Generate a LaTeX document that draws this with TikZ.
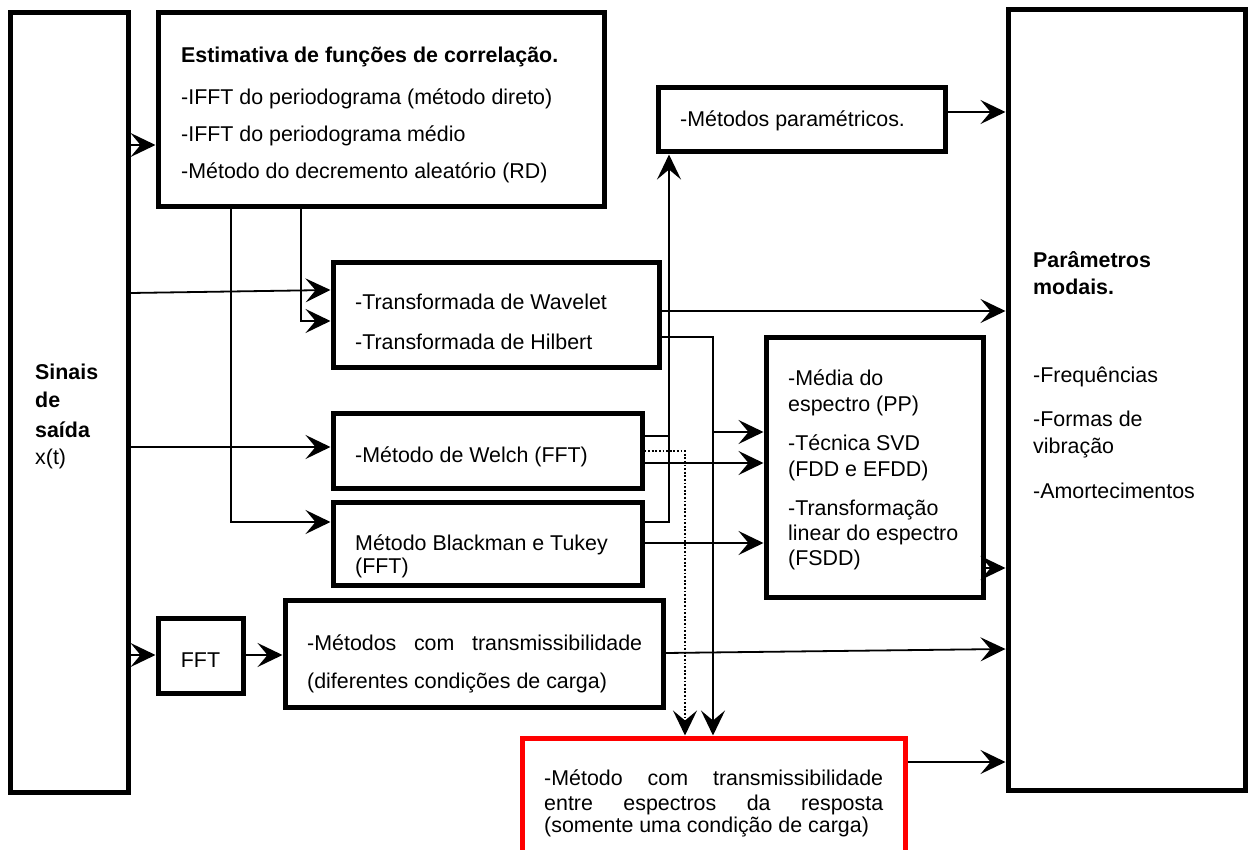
\documentclass[tikz,border=0pt]{standalone}
\usepackage{fontspec}
\setmainfont{Liberation Sans}
\usetikzlibrary{arrows.meta,calc}
\begin{document}
\begin{tikzpicture}[x=1pt,y=-1pt,
  box/.style={draw=black,line width=5pt,rectangle,inner sep=0pt,minimum width=#1},
  redbox/.style={draw=red,line width=5pt,rectangle,inner sep=0pt},
  txt/.style={anchor=base west,inner sep=0pt,font=\fontsize{21.4}{26}\selectfont},
  btxt/.style={anchor=base west,inner sep=0pt,font=\fontsize{21.4}{26}\selectfont\bfseries},
  line/.style={draw=black,line width=1.8pt},
  conn/.style={line,-{Stealth[length=25pt,width=24pt,inset=10pt]}},
  dotline/.style={conn,dash pattern=on 1.8pt off 1.8pt}]
\useasboundingbox (0,0) rectangle (1251,850);
\clip (0,0) rectangle (1251,850);
\fill[white] (0,0) rectangle (1251,850);

% boxes
\node[box=118pt,minimum height=779pt] (L) at (69,402.5) {};
\node[box=446pt,minimum height=194pt] (T) at (381,110) {};
\node[box=287pt,minimum height=64pt] (P) at (801.5,120) {};
\node[box=326pt,minimum height=105pt] (W) at (496,315.5) {};
\node[box=309pt,minimum height=75pt] (We) at (487.5,450.5) {};
\node[box=309pt,minimum height=83pt] (B) at (487.5,543.5) {};
\node[box=217pt,minimum height=259pt] (S) at (874.5,467.5) {};
\node[box=85pt,minimum height=75pt] (F) at (200.5,655.5) {};
\node[box=378pt,minimum height=107pt] (Tr) at (474,653.5) {};
\node[redbox,minimum width=383pt,minimum height=140pt] (R) at (713.5,808) {};
\node[box=237pt,minimum height=780pt] (M) at (1126.5,400) {};

% texts
\node[btxt] (tL1) at (35,380) {Sinais};
\node[btxt] (tL2) at (35,407) {de};
\node[btxt] (tL3) at (35,437) {saída};
\node[txt] (tL4) at (35,464) {x(t)};

\node[btxt] (tT1) at (181,63) {Estimativa de funções de correlação.};
\node[txt] (tT2) at (181,105) {-IFFT do periodograma (método direto)};
\node[txt] (tT3) at (181,142) {-IFFT do periodograma médio};
\node[txt] (tT4) at (181,179) {-Método do decremento aleatório (RD)};

\node[txt] (tP) at (680,127) {-Métodos paramétricos.};

\node[txt] (tW1) at (355,310) {-Transformada de Wavelet};
\node[txt] (tW2) at (355,350) {-Transformada de Hilbert};

\node[txt] (tWe) at (355,462) {-Método de Welch (FFT)};

\node[txt] (tB1) at (355,550) {Método Blackman e Tukey};
\node[txt] (tB2) at (355,573) {(FFT)};

\node[txt] (tS1) at (788,385) {-Média do};
\node[txt] (tS2) at (788,411) {espectro (PP)};
\node[txt] (tS3) at (788,450) {-Técnica SVD};
\node[txt] (tS4) at (788,476) {(FDD e EFDD)};
\node[txt] (tS5) at (788,515) {-Transformação};
\node[txt] (tS6) at (788,540) {linear do espectro};
\node[txt] (tS7) at (788,565) {(FSDD)};

\node[btxt] (tM1) at (1033,268) {Parâmetros};
\node[btxt] (tM2) at (1033,295) {modais.};
\node[txt] (tM3) at (1033,383) {-Frequências};
\node[txt] (tM4) at (1033,427) {-Formas de};
\node[txt] (tM5) at (1033,453) {vibração};
\node[txt] (tM6) at (1033,498) {-Amortecimentos};

\node[txt,anchor=base] (tF) at (200.5,667) {FFT};

\node[txt] (tTr1) at (307,650) {\makebox[335pt][s]{-Métodos com transmissibilidade}};
\node[txt] (tTr2) at (307,688) {(diferentes condições de carga)};

\node[txt] (tR1) at (544,785) {\makebox[339pt][s]{-Método com transmissibilidade}};
\node[txt] (tR2) at (544,810) {\makebox[339pt][s]{entre espectros da resposta}};
\node[txt] (tR3) at (544,832) {(somente uma condição de carga)};

% junction coordinates
\coordinate (y145) at (0,145);
\coordinate (y293) at (0,293);
\coordinate (y290) at (0,290);
\coordinate (k1) at (301,321);
\coordinate (k2) at (231,522);
\coordinate (y447) at (0,447);
\coordinate (y655) at (0,655);
\coordinate (y653) at (0,653);
\coordinate (y649) at (0,649);
\coordinate (y311) at (0,311);
\coordinate (y112) at (0,112);
\coordinate (v1) at (669,436);
\coordinate (v2) at (669,522);
\coordinate (h1) at (713,337);
\coordinate (h2) at (713,432);
\coordinate (y463) at (0,463);
\coordinate (d1) at (685,451);
\coordinate (y543) at (0,543);
\coordinate (y568) at (0,568);
\coordinate (y762) at (0,762);

% connectors
\draw[conn] (L.east|-y145) -- (T.west|-y145);
\draw[conn] (L.east|-y293) -- (W.west|-y290);
\draw[conn] (T.south-|k1) |- (W.west|-k1);
\draw[conn] (T.south-|k2) |- (B.west|-k2);
\draw[conn] (L.east|-y447) -- (We.west|-y447);
\draw[conn] (L.east|-y655) -- (F.west|-y655);
\draw[conn] (F.east|-y655) -- (Tr.west|-y655);
\draw[conn] (Tr.east|-y653) -- (M.west|-y649);
\draw[conn] (W.east|-y311) -- (M.west|-y311);
\draw[conn] (P.east|-y112) -- (M.west|-y112);
\draw[line] (We.east|-v1) -- (v1);
\draw[conn] (B.east|-v2) -- (v2) -- (P.south-|v2);
\draw[conn] (W.east|-h1) -- (h1) -- (R.north-|h1);
\draw[conn] (h2) -- (S.west|-h2);
\draw[conn] (We.east|-y463) -- (S.west|-y463);
\draw[dotline] (We.east|-d1) -- (d1) -- (R.north-|d1);
\draw[conn] (B.east|-y543) -- (S.west|-y543);
\draw[conn] (S.east|-y568) -- (M.west|-y568);
\draw[conn] (R.east|-y762) -- (M.west|-y762);
\end{tikzpicture}
\end{document}
